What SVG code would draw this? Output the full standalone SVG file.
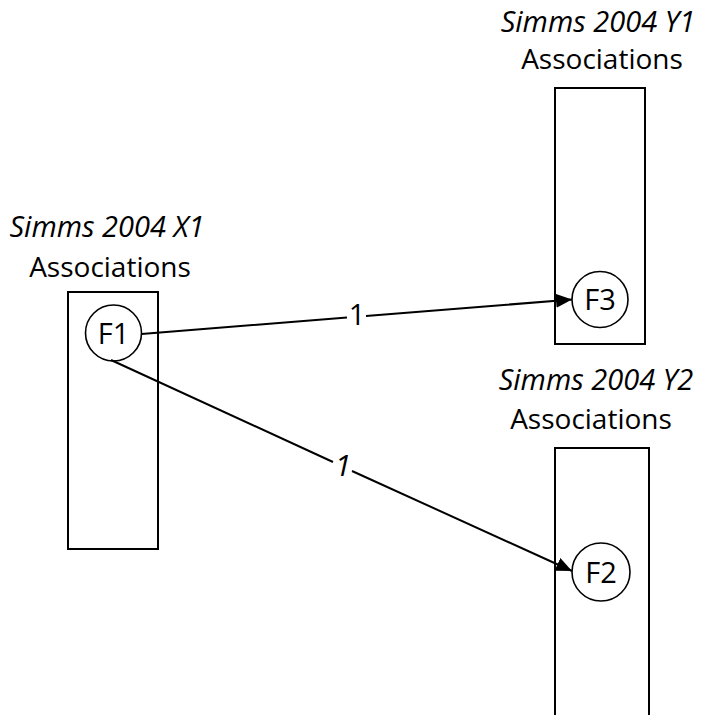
<svg xmlns="http://www.w3.org/2000/svg" width="703" height="715" viewBox="0 0 703 715">
  <style>
    .box { fill: #fff; stroke: #000; stroke-width: 2; }
    .node { fill: #fff; stroke: #000; stroke-width: 1.6; }
    .title { font-family: "Open Sans", "Liberation Sans", sans-serif; font-size: 28px; fill: #000; text-anchor: middle; }
    .it { font-style: italic; font-size: 29px; }
    .edge { fill: none; stroke: #000; stroke-width: 2; }
    .elabel { font-family: "Open Sans", "Liberation Sans", sans-serif; font-size: 29px; fill: #000; text-anchor: middle; }
    .elabel.it { font-size: 30px; }
  </style>
  <defs>
    <marker id="arrow" markerWidth="16" markerHeight="14" refX="16" refY="7" orient="auto" markerUnits="userSpaceOnUse">
      <path d="M0,0 L16,7 L0,14 Z" fill="#000"/>
    </marker>
  </defs>
  <rect width="703" height="715" fill="#fff"/>

  <!-- association columns -->
  <g id="col-x1">
    <text class="title it" x="107" y="237">Simms 2004 X1</text>
    <text class="title" x="110" y="277">Associations</text>
    <rect class="box" x="68" y="292" width="90" height="257"/>
  </g>
  <g id="col-y1">
    <text class="title it" x="598" y="32">Simms 2004 Y1</text>
    <text class="title" x="602" y="69">Associations</text>
    <rect class="box" x="555" y="88" width="90" height="256"/>
  </g>
  <g id="col-y2">
    <text class="title it" x="596" y="390">Simms 2004 Y2</text>
    <text class="title" x="591" y="429">Associations</text>
    <rect class="box" x="555" y="448" width="94" height="280"/>
  </g>

  <!-- factor nodes -->
  <g id="F1">
    <circle class="node" cx="113.5" cy="333" r="28"/>
    <text class="elabel" x="113.5" y="343.5">F1</text>
  </g>
  <g id="F3">
    <circle class="node" cx="600" cy="299.5" r="28"/>
    <text class="elabel" x="600" y="310">F3</text>
  </g>
  <g id="F2">
    <circle class="node" cx="601" cy="572" r="29"/>
    <text class="elabel" x="601" y="582.5">F2</text>
  </g>

  <!-- connectors -->
  <g id="edges">
    <path class="edge" d="M141.5,334 L347,317.5 M366,316 L572,299.5" marker-end="url(#arrow)"/>
    <text class="elabel" x="357" y="325">1</text>
    <path class="edge" d="M111,360 L333,462 M352,471 L572,571" marker-end="url(#arrow)"/>
    <text class="elabel it" x="343" y="476">1</text>
  </g>
</svg>
